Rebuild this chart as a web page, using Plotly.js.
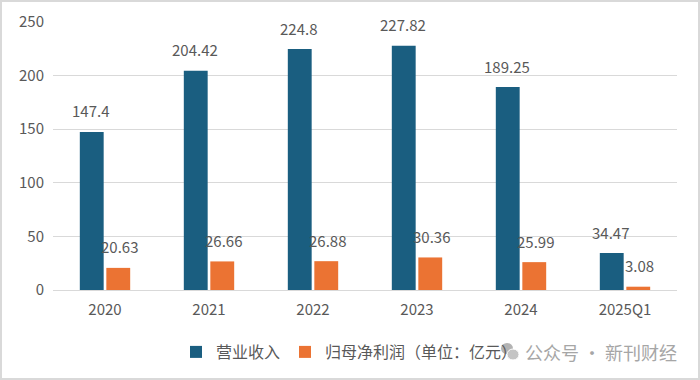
<!DOCTYPE html>
<html><head><meta charset="utf-8">
<script src="https://cdn.plot.ly/plotly-3.0.1.min.js"></script>
<style>
html,body{margin:0;padding:0;background:#fff;}
#wrap{width:700px;height:380px;box-sizing:border-box;border:2px solid #d9d9d9;background:#fff;}
#chart{width:696px;height:376px;}
</style></head>
<body><div id="wrap"><div id="chart"></div></div>
<script>
const categories = ["2020","2021","2022","2023","2024","2025Q1"];
const revenue = [147.4, 204.42, 224.8, 227.82, 189.25, 34.47];
const netProfit = [20.63, 26.66, 26.88, 30.36, 25.99, 3.08];
const seriesNames = ["营业收入", "归母净利润（单位：亿元）"];
const yTicks = [0, 50, 100, 150, 200, 250];

const FONT = '"Noto Sans CJK SC", "Noto Sans", sans-serif';
const TXT = '#595959';
const BLUE = '#1a5e80';
const ORANGE = '#eb7333';

const traces = [
  {type:'bar', name:seriesNames[0], x:categories, y:revenue, marker:{color:BLUE}, hoverinfo:'none'},
  {type:'bar', name:seriesNames[1], x:categories, y:netProfit, marker:{color:ORANGE}, hoverinfo:'none'}
];

// pixel helpers for paper coords (plot area 624x268 at offset 51,20 within 696x376)
const px = v => (v - 2 - 51) / 624;
const py = v => (290 - v) / 268;

const annotations = [];
categories.forEach((c,i)=>{
  annotations.push({x:i, y:revenue[i], xref:'x', yref:'y', text:String(revenue[i]), showarrow:false,
    xshift:-14.5, yshift:21, yanchor:'middle', font:{family:FONT,size:15,color:TXT}});
  annotations.push({x:i, y:netProfit[i], xref:'x', yref:'y', text:String(netProfit[i]), showarrow:false,
    xshift:14.5, yshift:21, yanchor:'middle', font:{family:FONT,size:15,color:TXT}});
});
annotations.push({xref:'paper', yref:'paper', x:px(679), y:py(352), xanchor:'right', yanchor:'middle',
  text:'公众号 · 新刊财经', showarrow:false, font:{family:FONT, size:18, color:'#a6a6a6'}});

const shapes = [
  {type:'circle', xref:'paper', yref:'paper', x0:px(501), x1:px(513), y0:py(354), y1:py(343),
    fillcolor:'#b3b3b3', line:{width:0}, layer:'above'},
  {type:'circle', xref:'paper', yref:'paper', x0:px(507), x1:px(519), y0:py(360), y1:py(349),
    fillcolor:'#c4c4c4', line:{color:'#ffffff', width:1}, layer:'above'}
];

const layout = {
  width:696, height:376,
  margin:{l:51, r:21, t:20, b:88, autoexpand:false},
  paper_bgcolor:'#fff', plot_bgcolor:'#fff',
  barmode:'group', bargap:0.49, bargroupgap:0.1,
  font:{family:FONT, color:TXT, size:14},
  xaxis:{type:'category', range:[-0.5,5.5], autorange:false, showgrid:false, showline:true, linecolor:'#d9d9d9', linewidth:1,
    ticks:'', ticklabelstandoff:6, tickfont:{family:FONT,size:15,color:TXT}, fixedrange:true},
  yaxis:{range:[0,250], autorange:false, tickvals:yTicks, showgrid:true, gridcolor:'#d9d9d9', gridwidth:1,
    zeroline:false, showline:false, ticks:'', ticklabelstandoff:8,
    tickfont:{family:FONT,size:15,color:TXT}, fixedrange:true},
  showlegend:true,
  legend:{orientation:'h', x:px(176), xanchor:'left', y:py(352), yanchor:'middle', bgcolor:'rgba(0,0,0,0)',
    font:{family:FONT,size:16,color:TXT}, itemwidth:30, traceorder:'normal'},
  annotations:annotations,
  shapes:shapes
};

Plotly.newPlot('chart', traces, layout, {displayModeBar:false, staticPlot:true});
</script></body></html>
